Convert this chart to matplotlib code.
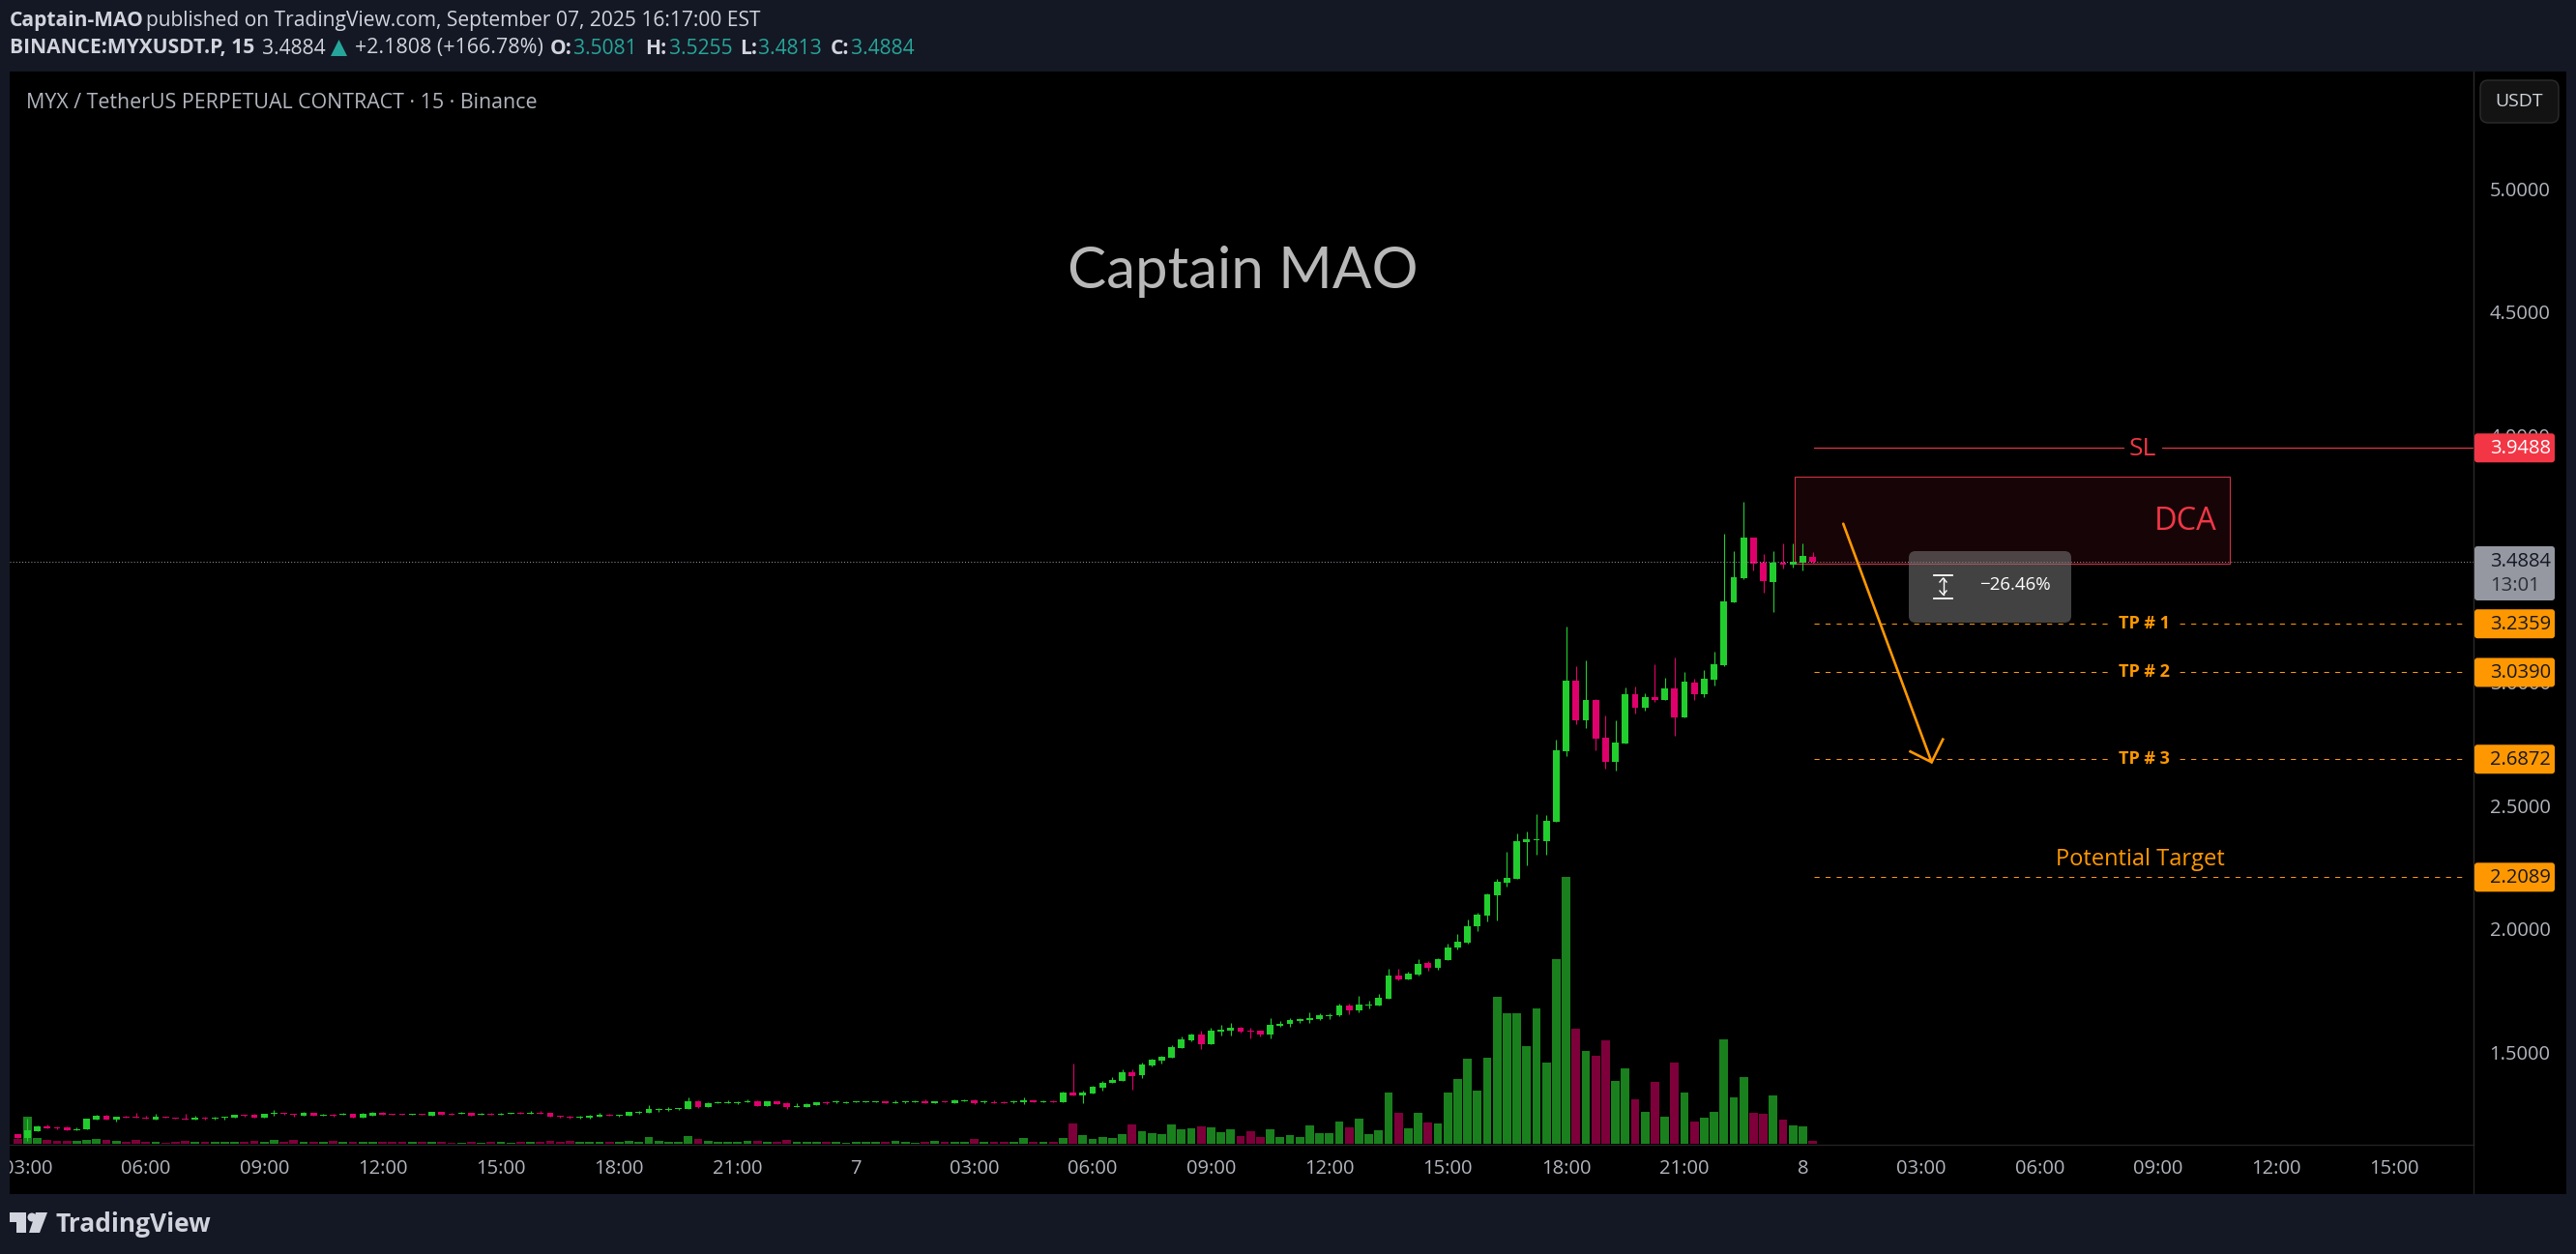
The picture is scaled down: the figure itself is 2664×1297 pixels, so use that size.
import matplotlib
matplotlib.use("Agg")
import matplotlib.pyplot as plt
from matplotlib.patches import Rectangle, FancyBboxPatch, Polygon, Circle
from matplotlib.lines import Line2D

# ---------- data (15-minute bars, first bar is one before 03:00 on the 6th) ----------
opens = [1.168,1.152,1.180,1.199,1.195,1.195,1.183,1.187,1.227,1.242,
1.227,1.238,1.238,1.234,1.227,1.238,1.234,1.230,1.227,1.234,
1.230,1.234,1.234,1.246,1.246,1.234,1.250,1.254,1.250,1.242,
1.254,1.243,1.247,1.247,1.250,1.234,1.242,1.254,1.250,1.250,
1.246,1.250,1.242,1.258,1.250,1.250,1.254,1.246,1.250,1.246,
1.250,1.254,1.250,1.254,1.254,1.242,1.238,1.234,1.234,1.238,
1.246,1.242,1.242,1.254,1.254,1.266,1.266,1.270,1.270,1.301,
1.278,1.293,1.293,1.293,1.297,1.301,1.281,1.301,1.293,1.278,
1.278,1.285,1.297,1.297,1.293,1.297,1.297,1.297,1.301,1.293,
1.297,1.297,1.301,1.293,1.301,1.293,1.301,1.305,1.297,1.297,
1.297,1.297,1.297,1.305,1.297,1.301,1.297,1.336,1.325,1.332,
1.356,1.376,1.383,1.419,1.407,1.446,1.466,1.477,1.517,1.548,
1.571,1.532,1.583,1.587,1.599,1.587,1.587,1.571,1.607,1.614,
1.626,1.630,1.634,1.646,1.650,1.689,1.669,1.689,1.689,1.716,
1.810,1.795,1.814,1.861,1.842,1.873,1.924,1.944,2.011,2.054,
2.136,2.187,2.203,2.351,2.359,2.355,2.434,2.720,3.006,2.845,
2.927,2.775,2.677,2.751,2.951,2.896,2.939,2.927,2.974,2.857,
2.998,2.951,3.010,3.068,3.323,3.421,3.586,3.484,3.405,3.484,
3.476,3.484,3.5081]
highs = [1.168,1.230,1.203,1.207,1.199,1.199,1.195,1.230,1.246,1.246,
1.238,1.242,1.254,1.242,1.250,1.238,1.234,1.250,1.242,1.238,
1.238,1.238,1.246,1.246,1.250,1.250,1.266,1.254,1.250,1.258,
1.254,1.250,1.251,1.254,1.250,1.254,1.258,1.258,1.250,1.250,
1.250,1.250,1.258,1.258,1.254,1.258,1.254,1.254,1.254,1.254,
1.254,1.258,1.262,1.262,1.254,1.242,1.242,1.242,1.246,1.254,
1.250,1.246,1.258,1.262,1.285,1.274,1.278,1.274,1.317,1.305,
1.297,1.301,1.305,1.301,1.309,1.305,1.301,1.301,1.297,1.293,
1.293,1.297,1.301,1.305,1.301,1.301,1.301,1.301,1.301,1.305,
1.301,1.305,1.309,1.301,1.301,1.309,1.309,1.309,1.305,1.305,
1.301,1.305,1.317,1.305,1.305,1.305,1.340,1.454,1.344,1.364,
1.383,1.399,1.430,1.430,1.458,1.473,1.485,1.528,1.564,1.575,
1.587,1.599,1.611,1.618,1.603,1.599,1.587,1.638,1.626,1.638,
1.638,1.662,1.658,1.658,1.697,1.697,1.728,1.709,1.736,1.838,
1.838,1.826,1.877,1.869,1.881,1.940,1.979,2.038,2.065,2.144,
2.203,2.312,2.387,2.395,2.465,2.461,2.767,3.225,3.065,3.088,
2.931,2.865,2.845,2.978,2.982,2.955,3.072,3.018,3.100,3.041,
3.014,3.049,3.123,3.601,3.531,3.731,3.586,3.519,3.531,3.562,
3.562,3.562,3.5255]
lows = [1.152,1.140,1.180,1.191,1.187,1.183,1.183,1.187,1.227,1.227,
1.219,1.234,1.233,1.230,1.227,1.234,1.230,1.227,1.227,1.227,
1.227,1.227,1.234,1.238,1.234,1.234,1.242,1.246,1.238,1.242,
1.242,1.243,1.238,1.247,1.234,1.234,1.242,1.246,1.246,1.246,
1.246,1.246,1.242,1.246,1.246,1.250,1.242,1.246,1.246,1.246,
1.250,1.250,1.250,1.250,1.238,1.234,1.230,1.230,1.230,1.238,
1.242,1.238,1.242,1.250,1.254,1.258,1.262,1.266,1.270,1.274,
1.278,1.293,1.293,1.289,1.297,1.281,1.281,1.289,1.270,1.278,
1.278,1.285,1.289,1.293,1.293,1.297,1.297,1.297,1.293,1.293,
1.293,1.297,1.293,1.293,1.297,1.293,1.301,1.289,1.293,1.293,
1.293,1.293,1.289,1.297,1.297,1.297,1.297,1.325,1.293,1.332,
1.344,1.376,1.383,1.348,1.395,1.442,1.454,1.477,1.517,1.544,
1.513,1.532,1.568,1.568,1.579,1.556,1.564,1.556,1.603,1.603,
1.618,1.618,1.630,1.634,1.646,1.654,1.662,1.677,1.689,1.716,
1.791,1.795,1.810,1.830,1.834,1.873,1.917,1.940,1.991,2.030,
2.034,2.171,2.203,2.257,2.301,2.301,2.434,2.700,2.829,2.814,
2.724,2.649,2.641,2.751,2.873,2.884,2.920,2.927,2.782,2.857,
2.927,2.939,2.986,3.065,3.323,3.417,3.452,3.362,3.284,3.460,
3.464,3.452,3.4813]
closes = [1.152,1.183,1.199,1.191,1.191,1.183,1.187,1.230,1.242,1.227,
1.238,1.234,1.234,1.230,1.238,1.234,1.230,1.227,1.234,1.230,
1.234,1.238,1.246,1.242,1.234,1.250,1.254,1.250,1.246,1.254,
1.242,1.247,1.243,1.251,1.234,1.250,1.254,1.246,1.246,1.246,
1.250,1.246,1.258,1.246,1.246,1.254,1.242,1.250,1.246,1.250,
1.254,1.250,1.254,1.250,1.238,1.238,1.234,1.238,1.242,1.246,
1.242,1.246,1.258,1.258,1.270,1.270,1.270,1.274,1.301,1.278,
1.293,1.297,1.297,1.297,1.301,1.281,1.301,1.289,1.278,1.281,
1.289,1.297,1.293,1.301,1.297,1.301,1.301,1.301,1.293,1.297,
1.301,1.301,1.293,1.301,1.297,1.305,1.305,1.293,1.301,1.293,
1.293,1.301,1.305,1.297,1.301,1.297,1.336,1.325,1.336,1.360,
1.376,1.387,1.419,1.403,1.450,1.470,1.481,1.520,1.552,1.571,
1.532,1.587,1.591,1.599,1.583,1.583,1.571,1.611,1.614,1.630,
1.634,1.638,1.650,1.650,1.689,1.669,1.693,1.693,1.720,1.810,
1.795,1.818,1.857,1.842,1.877,1.924,1.948,2.011,2.058,2.140,
2.191,2.207,2.355,2.363,2.363,2.438,2.724,3.006,2.845,2.927,
2.771,2.677,2.755,2.951,2.896,2.939,2.927,2.974,2.857,3.002,
2.951,3.014,3.072,3.327,3.425,3.586,3.480,3.409,3.484,3.476,
3.488,3.511,3.4884]
volumes = [15,84,18,12,9,9,9,12,15,12,
9,6,12,6,6,3,6,9,6,6,
6,6,6,6,9,6,12,6,12,6,
6,6,9,6,6,6,6,6,6,6,
6,6,6,6,3,3,6,3,6,6,
3,6,6,6,9,6,9,6,6,6,
6,6,9,6,21,9,6,6,24,15,
9,6,6,6,9,9,6,6,12,6,
6,6,6,6,3,6,6,6,6,9,
6,3,6,9,6,6,6,15,6,6,
6,6,18,6,6,6,18,63,27,15,
21,18,30,60,39,33,30,60,45,48,
54,51,36,45,24,39,21,45,21,27,
21,57,33,33,69,51,78,30,42,159,
96,48,96,66,63,159,201,264,165,267,
456,405,405,303,420,252,573,828,357,288,
273,321,195,234,138,99,192,84,252,159,
69,81,99,324,144,207,96,93,150,75,
57,54,9]
first_bar = -1

time_ticks = [0,12,24,36,48,60,72,84,96,108,120,132,144,156,168,180,192,204,216,228,240]
time_labels = ["03:00","06:00","09:00","12:00","15:00","18:00","21:00","7","03:00","06:00",
               "09:00","12:00","15:00","18:00","21:00","8","03:00","06:00","09:00","12:00","15:00"]
price_ticks = [5.0,4.5,4.0,3.0,2.5,2.0,1.5]

last_price = 3.4884
stop_loss = 3.9488
take_profits = [3.2359,3.0390,2.6872]
tp_names = ["TP # 1","TP # 2","TP # 3"]
potential_target = 2.2089
dca_low, dca_high = 3.481, 3.831
dca_left, dca_right = 179.2, 223.3
level_start = 181.1
level_label_x = 214.6
arrow_x = [184.1,193.06]
arrow_y = [3.6416,2.6752]
head_x = [190.9,193.06,194.2]
head_y = [2.7184,2.6752,2.7677]

# ---------- layout / style ----------
W, H = 2664, 1297
OUTER = "#141824"; UP = "#22CE2E"; DOWN = "#E0006C"; VUP = "#1A801E"; VDOWN = "#7E003A"
ORANGE = "#FF9800"; RED = "#F23645"; AXT = "#B2B5BE"; HEAD = "#D1D4DC"; TEAL = "#26A69A"; SEP = "#2A2A2A"
FONT = ["Open Sans", "DejaVu Sans"]
plt.rcParams["font.family"] = FONT

CL, CR, CT, CB = 10, 2558, 74, 1184     # plot rectangle in image pixels
BAR0, STEP = 28.4, 10.2                 # pixel of bar 0, pixels per bar
PPU, P0 = 255.2, 5.7642                 # pixels per price unit, price at image top

fig = plt.figure(figsize=(W/100, H/100), dpi=100, facecolor=OUTER)
def fx(x): return x/W
def fy(y): return 1-y/H
def frect(x0, y0, x1, y1, **kw):
    r = Rectangle((fx(x0), fy(y1)), (x1-x0)/W, (y1-y0)/H, transform=fig.transFigure, **kw)
    fig.add_artist(r); return r
def ftext(x, y, s, **kw):
    kw.setdefault("va", "center"); kw.setdefault("ha", "left")
    return fig.text(fx(x), fy(y), s, **kw)
def fbox(x0, y0, x1, y1, rad=4, **kw):
    b = FancyBboxPatch((x0, H-y1), x1-x0, y1-y0, boxstyle=f"round,pad=0,rounding_size={rad}",
                       transform=None, **kw)
    fig.add_artist(b); return b

frect(10, 74, 2654, 1235, fc="black", ec="none", zorder=-5)

rect = [CL/W, 1-CB/H, (CR-CL)/W, (CB-CT)/H]
ax = fig.add_axes(rect, facecolor="none", zorder=2)
vax = fig.add_axes(rect, facecolor="none", zorder=1, sharex=ax)
ax.set_xlim((CL-BAR0)/STEP, (CR-BAR0)/STEP)
ax.set_ylim(P0-CB/PPU, P0-CT/PPU)
vax.set_ylim(-3, (CB-CT)*3-3)
vax.axis("off")

xs = [first_bar+i for i in range(len(opens))]
ups = [c >= o for o, c in zip(opens, closes)]
vax.bar(xs, volumes, width=0.86, color=[VUP if u else VDOWN for u in ups], linewidth=0)

# drawings below candles
ax.add_patch(Rectangle((dca_left, dca_low), dca_right-dca_left, dca_high-dca_low,
                       fc="#170407", ec="#D03040", lw=0.8, zorder=1))

# candles
ax.vlines(xs, lows, highs, colors=[UP if u else DOWN for u in ups], lw=0.8, zorder=3)
ax.bar(xs, [max(abs(c-o), 0.003) for o, c in zip(opens, closes)], bottom=[min(o, c) for o, c in zip(opens, closes)],
       width=0.68, color=[UP if u else DOWN for u in ups], linewidth=0, zorder=4)

# levels
right_dash = (2552-BAR0)/STEP
ax.plot([(CL-BAR0)/STEP, (CR-BAR0)/STEP], [last_price]*2, color="#8F929B", lw=0.75, ls=(0, (1, 2)), zorder=5)
ax.plot([level_start, (CR-BAR0)/STEP], [stop_loss]*2, color=RED, lw=0.8, zorder=2)
for v in take_profits+[potential_target]:
    ax.plot([level_start, right_dash], [v, v], color=ORANGE, lw=0.75, ls=(0, (5, 6)), zorder=2)
ax.text(level_label_x-0.1, stop_loss-0.005, "SL", color=RED, fontsize=19, ha="center", va="center",
        bbox=dict(fc="black", ec="none", pad=4), zorder=3)
for v, n in zip(take_profits, tp_names):
    ax.text(level_label_x, v, n, color=ORANGE, fontsize=13, fontweight="bold", ha="center", va="center",
            bbox=dict(fc="black", ec="none", pad=5), zorder=3)
ax.text(level_label_x-0.4, potential_target+0.023, "Potential Target", color=ORANGE, fontsize=17, ha="center", va="bottom", zorder=3)
ax.text(dca_right-1.3, 3.65, "DCA", color=RED, fontsize=23.5, ha="right", va="center", zorder=3)

# hand-drawn arrow
ax.plot(arrow_x, arrow_y, color=ORANGE, lw=1.9, zorder=6, solid_capstyle="round")
ax.plot(head_x, head_y, color=ORANGE, lw=1.9, zorder=6, solid_joinstyle="miter")

# axes furniture
for s in ("left", "top"):
    ax.spines[s].set_visible(False)
ax.spines["right"].set_color(SEP); ax.spines["bottom"].set_color("#222222")
ax.spines["right"].set_linewidth(1); ax.spines["bottom"].set_linewidth(1)
ax.yaxis.tick_right()
ax.set_yticks(price_ticks, [f"{v:.4f}" for v in price_ticks])
ax.set_xticks(time_ticks, time_labels)
ax.tick_params(axis="y", length=0, pad=12, colors=AXT, labelsize=14.5)
ax.tick_params(axis="x", length=0, pad=11, colors=AXT, labelsize=14.5)
frect(2558, 1184, 2559, 1235, fc=SEP, ec="none", zorder=3)

# price tags
def pixel_y(p): return (P0-p)*PPU
def tag(p, s, face, col):
    y = pixel_y(p)
    fbox(2559, y-15, 2642, y+15, rad=3, fc=face, ec="none", zorder=6)
    ftext(2575, y+0.5, s, color=col, fontsize=14.5, zorder=7)
tag(stop_loss, "3.9488", RED, "white")
for v in take_profits+[potential_target]:
    tag(v, f"{v:.4f}", ORANGE, "#131722")
fbox(2559, 565, 2642, 621, rad=3, fc="#9598A1", ec="none", zorder=6)
ftext(2575, 581, "3.4884", color="#131722", fontsize=14.5, zorder=7)
ftext(2575, 606, "13:01", color="#2A2E39", fontsize=14.5, zorder=7)

# USDT button
fbox(2565, 83, 2646, 127, rad=8, fc="#131313", ec="#2C2C2C", lw=1, zorder=6)
ftext(2605.5, 104.5, "USDT", color=HEAD, fontsize=14, ha="center", zorder=7)

# measure tooltip
fbox(1974, 570, 2142, 644, rad=7, fc="#7A7A7A", ec="none", alpha=0.55, zorder=6)
ftext(2047, 605, "\u221226.46%", color="white", fontsize=13.5, zorder=7)
for yy in (594.5, 619):
    fig.add_artist(Line2D([fx(2000), fx(2019)], [fy(yy)]*2, color="white", lw=1.3, zorder=7))
fig.add_artist(Line2D([fx(2009.5)]*2, [fy(598), fy(615)], color="white", lw=1, zorder=7))
for yy, d in ((598, 4), (615, -4)):
    fig.add_artist(Line2D([fx(2006), fx(2009.5), fx(2013)], [fy(yy+d), fy(yy), fy(yy+d)], color="white", lw=1, zorder=7))

# watermark + titles
ftext(1285, 281, "Captain MAO", color="#B8B8B8", fontsize=43.2, ha="center", zorder=7, family=["Lato", "DejaVu Sans"])
ftext(27, 106, "MYX / TetherUS PERPETUAL CONTRACT \u00b7 15 \u00b7 Binance", color=AXT, fontsize=15.4, zorder=7)

frect(0, 74, 10, 1235, fc=OUTER, ec="none", zorder=5)

# header
HS = 15.1
ftext(10, 21, "Captain-MAO", color=HEAD, fontsize=HS, fontweight="bold")
ftext(151, 21, "published on TradingView.com, September 07, 2025 16:17:00 EST", color=HEAD, fontsize=HS)
ftext(10, 50, "BINANCE:MYXUSDT.P, 15", color=HEAD, fontsize=HS, fontweight="bold")
ftext(271, 50, "3.4884", color=HEAD, fontsize=HS)
fig.add_artist(Polygon([(fx(342), fy(58)), (fx(359), fy(58)), (fx(350.5), fy(41))], closed=True,
                       fc=TEAL, ec="none", transform=fig.transFigure))
ftext(367, 50, "+2.1808 (+166.78%)", color=HEAD, fontsize=HS+0.3)
for x, s in [(569, "O:"), (667, "H:"), (765, "L:"), (859, "C:")]:
    ftext(x, 50, s, color=HEAD, fontsize=HS, fontweight="bold")
for x, s in [(593, "3.5081"), (692, "3.5255"), (784, "3.4813"), (880, "3.4884")]:
    ftext(x, 50, s, color=TEAL, fontsize=HS)

# footer logo
fig.add_artist(Polygon([(fx(a), fy(b)) for a, b in [(10,1254),(27,1254),(27,1275),(17,1275),(17,1264),(10,1264)]],
                       closed=True, fc=HEAD, ec="none", transform=fig.transFigure))
fig.add_artist(Polygon([(fx(a), fy(b)) for a, b in [(37,1254),(49,1254),(41,1275),(30,1275)]],
                       closed=True, fc=HEAD, ec="none", transform=fig.transFigure))
fig.add_artist(Circle((33, H-1259), 4.5, fc=HEAD, ec="none", transform=None))
ftext(57, 1266, "TradingView", color=HEAD, fontsize=19, fontweight="bold")

fig.savefig("out.png", dpi=100, facecolor=OUTER)
